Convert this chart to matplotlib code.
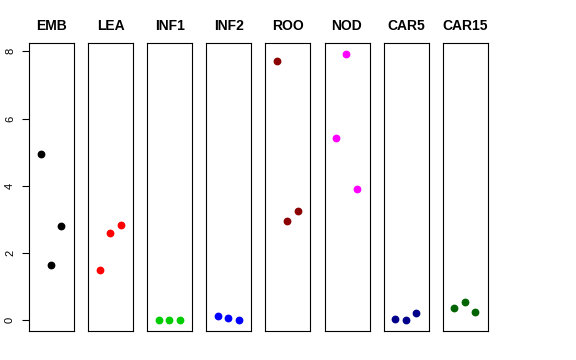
import numpy as np
import matplotlib
matplotlib.use("Agg")
import matplotlib.pyplot as plt

plt.rcParams['font.family'] = ['Liberation Sans', 'DejaVu Sans']

# groupes et valeurs (3 répétitions chacun)
groupes = ["EMB", "LEA", "INF1", "INF2", "ROO", "NOD", "CAR5", "CAR15"]
couleurs = ["black", "red", "#00cd00", "blue", "#8b0000", "magenta", "#00008b", "#006400"]
valeurs = [
    [4.94, 1.64, 2.82],
    [1.49, 2.61, 2.84],
    [0.0, 0.0, 0.0],
    [0.14, 0.06, 0.0],
    [7.70, 2.94, 3.24],
    [5.41, 7.93, 3.92],
    [0.05, 0.0, 0.23],
    [0.37, 0.54, 0.26],
]
reps = [1, 2, 3]
yticks = [0, 2, 4, 6, 8]

W, H = 576, 360
fig = plt.figure(figsize=(W / 100, H / 100), dpi=100)

tous = np.concatenate(valeurs)
r = tous.max() - tous.min()
ylim = (tous.min() - 0.04 * r, tous.max() + 0.04 * r)

top, bottom = 43, 331
for i, (g, c, v) in enumerate(zip(groupes, couleurs, valeurs)):
    left = 29 + 59.1 * i
    ax = fig.add_axes([left / W, 1 - bottom / H, 45 / W, (bottom - top) / H])
    ax.plot(reps, v, "o", color=c, markersize=4.6)
    ax.set_xlim(-0.1, 4.2)
    ax.set_ylim(*ylim)
    ax.set_xticks([])
    for s in ax.spines.values():
        s.set_linewidth(0.8)
    ax.set_title(g, fontsize=10, fontweight="bold", pad=9)
    if i == 0:
        ax.set_yticks(yticks)
        ax.set_yticklabels([str(t) for t in yticks], rotation=90, va="center", fontsize=8)
        ax.tick_params(axis="y", length=5, width=0.8, pad=5)
    else:
        ax.set_yticks([])

fig.savefig("out.png", dpi=100)
